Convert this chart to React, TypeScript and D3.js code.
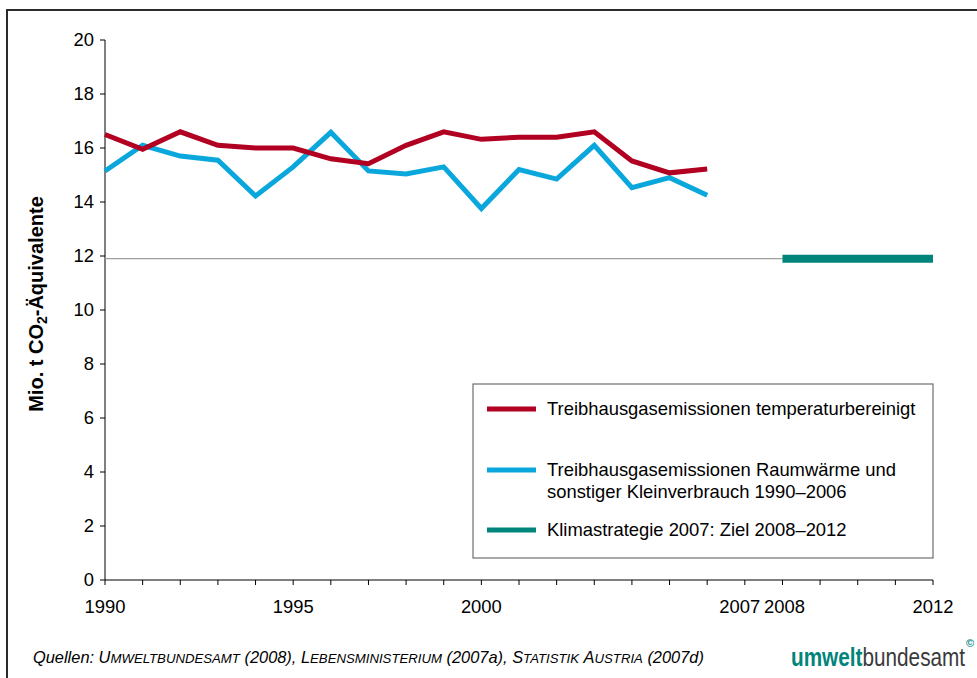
import React from "react";
import * as d3 from "d3";

// years for the two emission series
const years = [
  1990, 1991, 1992, 1993, 1994, 1995, 1996, 1997, 1998, 1999, 2000, 2001, 2002,
  2003, 2004, 2005, 2006,
];
// temperature adjusted emissions (Mio. t)
const tempAdjusted = [
  16.5, 15.95, 16.6, 16.1, 16.0, 16.0, 15.6, 15.42, 16.1, 16.6, 16.32, 16.4,
  16.4, 16.6, 15.52, 15.08, 15.22,
];
// space heating + small consumers (Mio. t)
const raumwaerme = [
  15.15, 16.1, 15.7, 15.55, 14.22, 15.3, 16.58, 15.15, 15.04, 15.3, 13.76,
  15.2, 14.85, 16.1, 14.53, 14.9, 14.25,
];
// target Klimastrategie 2007
const targetYears = [2008, 2012];
const targetValue = 11.9;

const yTicks = [0, 2, 4, 6, 8, 10, 12, 14, 16, 18, 20];
const xTickYears = d3.range(1990, 2013);
const xLabels = ["1990", "1995", "2000", "2007", "2008", "2012"];

const legendItems = [
  { color: "#b10021", lines: ["Treibhausgasemissionen temperaturbereinigt"] },
  {
    color: "#0aa7dd",
    lines: [
      "Treibhausgasemissionen Raumwärme und",
      "sonstiger Kleinverbrauch 1990–2006",
    ],
  },
  { color: "#00857c", lines: ["Klimastrategie 2007: Ziel 2008–2012"] },
];

// source parts: [text, smallCaps]
const sources: [string, boolean][] = [
  ["Quellen: ", false],
  ["Umweltbundesamt", true],
  [" (2008), ", false],
  ["Lebensministerium", true],
  [" (2007a), ", false],
  ["Statistik Austria", true],
  [" (2007d)", false],
];

const font = "'Liberation Sans', Arial, sans-serif";

// fake small caps: capitals full size, the rest upper-cased and smaller
const smallCaps = (s: string, big: number, small: number, key: string) => {
  const parts: JSX.Element[] = [];
  const re = /([A-ZÄÖÜ ]+)|([^A-ZÄÖÜ ]+)/g;
  let m;
  let k = 0;
  while ((m = re.exec(s))) {
    if (m[1]) {
      parts.push(<tspan key={key + k++} fontSize={big}>{m[1].replace(/ /g, "\u00a0")}</tspan>);
    } else {
      parts.push(<tspan key={key + k++} fontSize={small}>{m[2].toUpperCase()}</tspan>);
    }
  }
  return parts;
};

const App = () => {
  const width = 977;
  const height = 678;

  const x = d3.scaleLinear().domain([1990, 2012]).range([105, 933]);
  const y = d3.scaleLinear().domain([0, 20]).range([580, 40]);

  const line = d3
    .line<number>()
    .x((d, i) => x(years[i]))
    .y((d) => y(d));

  const labelShift: Record<string, number> = { "2007": -5, "2008": 2 };
  const legendY = [409, 470, 530];
  const fs = 18.4;

  return (
    <svg
      width={width}
      height={height}
      style={{ position: "absolute", left: 0, top: 0, background: "#fff" }}
      fontFamily={font}
    >
      {/* outer frame */}
      <rect x={7} y={10} width={1000} height={700} fill="#fff" stroke="#2b2b2b" strokeWidth={2} />

      {/* y axis */}
      <line x1={x(1990)} x2={x(1990)} y1={y(20)} y2={y(0)} stroke="#000" strokeWidth={1} />
      {yTicks.map((t) => (
        <g key={t}>
          <line x1={x(1990) - 5} x2={x(1990)} y1={y(t)} y2={y(t)} stroke="#000" />
          <text x={x(1990) - 11} y={y(t)} dy="0.35em" textAnchor="end" fontSize={fs}>
            {t}
          </text>
        </g>
      ))}

      {/* x axis */}
      <line x1={x(1990)} x2={x(2012)} y1={y(0)} y2={y(0)} stroke="#000" />
      {xTickYears.map((yr) => (
        <line key={yr} x1={x(yr)} x2={x(yr)} y1={y(0)} y2={y(0) + 5} stroke="#000" />
      ))}
      {xLabels.map((l) => (
        <text
          key={l}
          x={x(+l) + (labelShift[l] || 0)}
          y={y(0) + 33}
          textAnchor="middle"
          fontSize={fs}
        >
          {l}
        </text>
      ))}

      {/* y axis title */}
      <text
        transform={`translate(43,304) rotate(-90)`}
        textAnchor="middle"
        fontSize={20}
        fontWeight="bold"
      >
        Mio. t CO
        <tspan fontSize={14} dy={4}>2</tspan>
        <tspan dy={-4}>-Äquivalente</tspan>
      </text>

      {/* reference line */}
      <line
        x1={x(1990)}
        x2={x(targetYears[0])}
        y1={y(targetValue)}
        y2={y(targetValue)}
        stroke="#a0a0a0"
        strokeWidth={1.2}
      />
      <line
        x1={x(targetYears[0])}
        x2={x(targetYears[1])}
        y1={y(targetValue)}
        y2={y(targetValue)}
        stroke="#00857c"
        strokeWidth={8}
      />

      {/* series */}
      <path d={line(raumwaerme) || ""} fill="none" stroke="#0aa7dd" strokeWidth={5} />
      <path d={line(tempAdjusted) || ""} fill="none" stroke="#b10021" strokeWidth={5} />

      {/* legend */}
      <rect x={473} y={384} width={460} height={174} fill="#fff" stroke="#6e6e6e" strokeWidth={1.2} />
      {legendItems.map((it, i) => (
        <g key={i}>
          <line x1={487} x2={536} y1={legendY[i]} y2={legendY[i]} stroke={it.color} strokeWidth={5} />
          {it.lines.map((t, j) => (
            <text key={j} x={547} y={legendY[i] + j * 22} dy="0.35em" fontSize={fs}>
              {t}
            </text>
          ))}
        </g>
      ))}

      {/* source */}
      <text x={33} y={663} fontSize={16.4} fontStyle="italic">
        {sources.map(([t, sc], i) =>
          sc ? smallCaps(t, 16.4, 13.2, "s" + i) : <tspan key={i}>{t.replace(/ /g, "\u00a0")}</tspan>
        )}
      </text>

      {/* logo */}
      <text transform="translate(791,666) scale(0.83,1)" fontSize={25}>
        <tspan fontWeight="bold" fill="#00857c">umwelt</tspan>
        <tspan fill="#3a3a3a">bundesamt</tspan>
      </text>
      <text x={966} y={647} fontSize={11} fontWeight="bold" fill="#00857c">
        ©
      </text>
    </svg>
  );
};

export default App;
